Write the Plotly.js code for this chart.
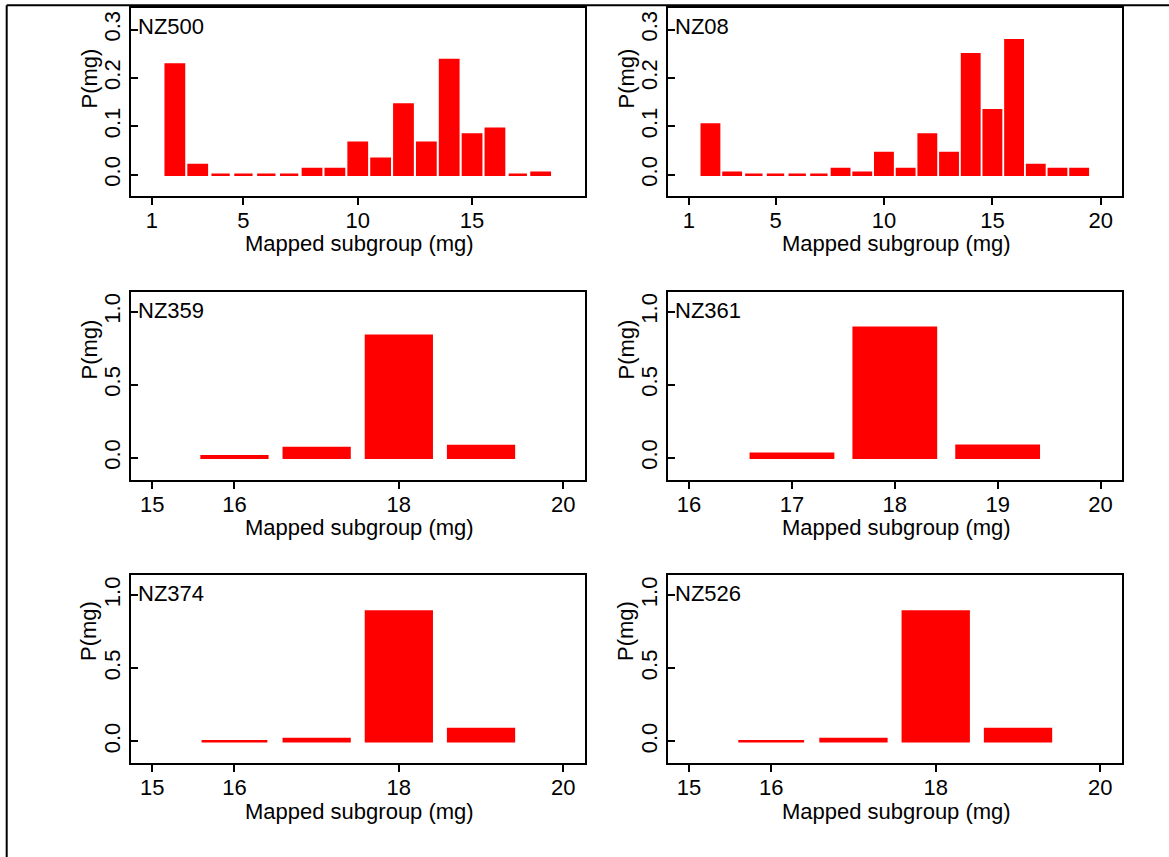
<!DOCTYPE html>
<html>
<head>
<meta charset="utf-8">
<script src="https://cdn.plot.ly/plotly-3.0.1.min.js"></script>
<style>
  html, body { margin: 0; padding: 0; background: #ffffff; }
  #chart { width: 1169px; height: 857px; }
</style>
</head>
<body>
<div id="chart"></div>
<script>
// ---------- data ----------
var panelNames = ["NZ500", "NZ08", "NZ359", "NZ361", "NZ374", "NZ526"];

var nz500_x = [2, 3, 4, 5, 6, 7, 8, 9, 10, 11, 12, 13, 14, 15, 16, 17, 18];
var nz500_y = [0.228, 0.020, 0.000, 0.000, 0.000, 0.000, 0.012, 0.012, 0.066, 0.033, 0.145, 0.066, 0.237, 0.083, 0.095, 0.000, 0.004];

var nz08_x = [2, 3, 4, 5, 6, 7, 8, 9, 10, 11, 12, 13, 14, 15, 16, 17, 18, 19];
var nz08_y = [0.104, 0.004, 0.000, 0.000, 0.000, 0.000, 0.012, 0.004, 0.045, 0.012, 0.083, 0.045, 0.249, 0.133, 0.278, 0.020, 0.012, 0.012];

var nz359_x = [16, 17, 18, 19];
var nz359_y = [0.011, 0.066, 0.835, 0.080];

var nz361_x = [17, 18, 19];
var nz361_y = [0.027, 0.890, 0.082];

var nz374_x = [16, 17, 18, 19];
var nz374_y = [0.000, 0.016, 0.889, 0.084];

var nz526_x = [16, 17, 18, 19];
var nz526_y = [0.000, 0.016, 0.889, 0.084];

var xTicks1 = [1, 5, 10, 15];
var xTicks2 = [1, 5, 10, 15, 20];
var xTicks3 = [15, 16, 18, 20];
var xTicks4 = [16, 17, 18, 19, 20];
var yTicksTop = [0, 0.1, 0.2, 0.3];
var yTicksLow = [0, 0.5, 1.0];

var xTitle = "Mapped subgroup (mg)";
var yTitle = "P(mg)";

// ---------- layout geometry (pixels) ----------
var W = 1169, H = 857;
var colLeft = [130.5, 667.5], colRight = [585, 1122.1];
var rowTop = [8.3, 291.8, 575.3], rowBot = [196, 479.5, 763];
var yTitleY = [79, 350, 631.5];

var panels = [
  {x: nz500_x, y: nz500_y, xr: [0.06, 19.94], yr: [-0.044, 0.344], xt: xTicks1, yt: yTicksTop},
  {x: nz08_x,  y: nz08_y,  xr: [0.02, 20.98], yr: [-0.044, 0.344], xt: xTicks2, yt: yTicksTop},
  {x: nz359_x, y: nz359_y, xr: [14.735, 20.265], yr: [-0.149, 1.136], xt: xTicks3, yt: yTicksLow},
  {x: nz361_x, y: nz361_y, xr: [15.79, 20.21],  yr: [-0.149, 1.136], xt: xTicks4, yt: yTicksLow},
  {x: nz374_x, y: nz374_y, xr: [14.735, 20.265], yr: [-0.149, 1.136], xt: xTicks3, yt: yTicksLow},
  {x: nz526_x, y: nz526_y, xr: [14.74, 20.265],  yr: [-0.149, 1.136], xt: xTicks3, yt: yTicksLow}
];

var FONT = "Liberation Sans, Arial, Helvetica, sans-serif";
var FS = 22;

var traces = [];
var layout = {
  width: W, height: H,
  margin: {l: 0, r: 0, t: 0, b: 0},
  paper_bgcolor: "#ffffff",
  plot_bgcolor: "#ffffff",
  showlegend: false,
  font: {family: FONT, size: FS, color: "#000000"},
  annotations: [],
  shapes: [
    {type: "line", xref: "paper", yref: "paper", x0: 6.7 / W, x1: 6.7 / W, y0: 0, y1: 1 - 5.3 / H,
     line: {color: "#000000", width: 2}},
    {type: "line", xref: "paper", yref: "paper", x0: 6.7 / W, x1: 1, y0: 1 - 5.3 / H, y1: 1 - 5.3 / H,
     line: {color: "#000000", width: 2}}
  ]
};

panels.forEach(function (p, i) {
  var col = i % 2, row = Math.floor(i / 2);
  var n = i + 1;
  var xa = "x" + (n === 1 ? "" : n), ya = "y" + (n === 1 ? "" : n);
  var xkey = "xaxis" + (n === 1 ? "" : n), ykey = "yaxis" + (n === 1 ? "" : n);

  traces.push({
    type: "bar",
    x: p.x, y: p.y,
    xaxis: xa, yaxis: ya,
    width: 0.8,
    marker: {color: "#ff0000", line: {color: "#ff0000", width: 2.5}},
    hoverinfo: "x+y"
  });

  var xd = [colLeft[col] / W, colRight[col] / W];
  var yd = [1 - rowBot[row] / H, 1 - rowTop[row] / H];

  layout[xkey] = {
    domain: xd, anchor: ya, range: p.xr, type: "linear",
    showline: true, mirror: true, linecolor: "#000000", linewidth: 2,
    ticks: "outside", ticklen: 7, tickwidth: 2, tickcolor: "#000000",
    tickvals: p.xt, ticktext: p.xt.map(String),
    ticklabelstandoff: -3,
    showgrid: false, zeroline: false, automargin: false,
    tickfont: {family: FONT, size: FS, color: "#000000"}
  };
  layout[ykey] = {
    domain: yd, anchor: xa, range: p.yr, type: "linear",
    showline: true, mirror: true, linecolor: "#000000", linewidth: 2,
    ticks: "inside", ticklen: 7, tickwidth: 2, tickcolor: "#000000",
    tickvals: p.yt, ticktext: p.yt.map(function (v) { return v.toFixed(1); }),
    tickangle: -90,
    showgrid: false, zeroline: false, automargin: false,
    tickfont: {family: FONT, size: FS, color: "#000000"}
  };

  // panel label
  layout.annotations.push({
    text: panelNames[i], xref: "paper", yref: "paper",
    x: (colLeft[col] + 5) / W, y: 1 - (rowTop[row] + 18.5) / H,
    xanchor: "left", yanchor: "middle", showarrow: false,
    font: {family: FONT, size: FS, color: "#000000"}
  });
  // x title
  layout.annotations.push({
    text: xTitle, xref: "paper", yref: "paper",
    x: (colLeft[col] + colRight[col]) / 2 / W + 2 / W, y: 1 - (rowBot[row] + 48) / H,
    xanchor: "center", yanchor: "middle", showarrow: false,
    font: {family: FONT, size: FS, color: "#000000"}
  });
  // y title
  layout.annotations.push({
    text: yTitle, xref: "paper", yref: "paper", textangle: -90,
    x: (colLeft[col] - 42) / W, y: 1 - yTitleY[row] / H,
    xanchor: "center", yanchor: "middle", showarrow: false,
    font: {family: FONT, size: FS, color: "#000000"}
  });
});

Plotly.newPlot("chart", traces, layout, {staticPlot: true, displayModeBar: false});
</script>
</body>
</html>
